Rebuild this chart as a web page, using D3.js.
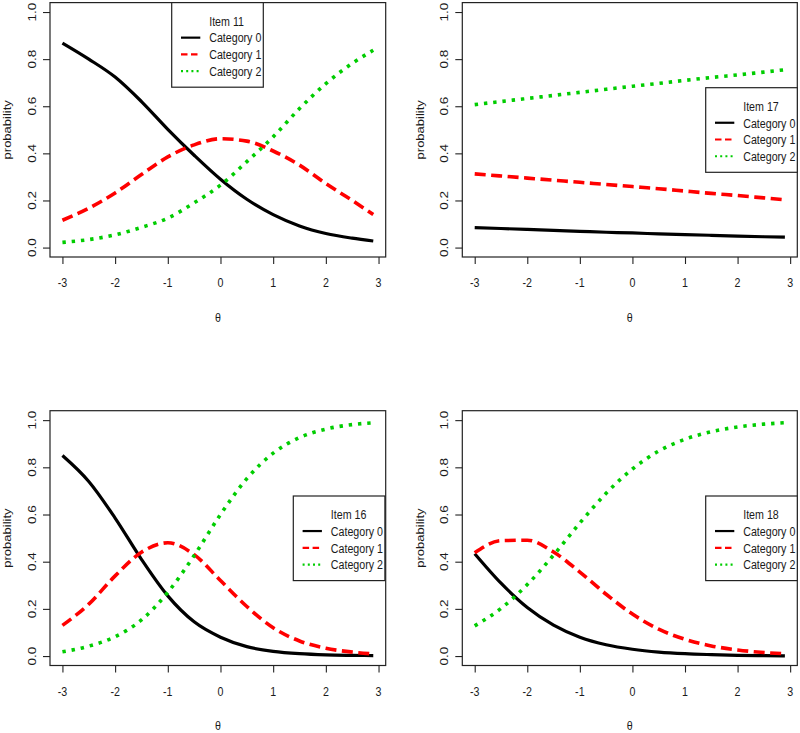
<!DOCTYPE html>
<html>
<head>
<meta charset="utf-8">
<script src="https://cdn.jsdelivr.net/npm/d3@7"></script>
<style>
  html, body { margin: 0; padding: 0; background: #ffffff; }
  svg { display: block; }
  text { font-family: "Liberation Sans", Arial, sans-serif; fill: #1a1a1a; }
</style>
</head>
<body>
<svg id="chart" width="800" height="733"></svg>
<script>
// ---------- data ----------
const theta = [-3, -2.5, -2, -1.5, -1, -0.5, 0, 0.5, 1, 1.5, 2, 2.5, 2.9];
const xTicks = [-3, -2, -1, 0, 1, 2, 3];
const yTicks = [0, 0.2, 0.4, 0.6, 0.8, 1.0];
const yTickLabels = ["0.0", "0.2", "0.4", "0.6", "0.8", "1.0"];
const categoryNames = ["Category 0", "Category 1", "Category 2"];
const itemNames = ["Item 11", "Item 17", "Item 16", "Item 18"];

const item11_cat0 = [0.868, 0.800, 0.724, 0.620, 0.502, 0.392, 0.290, 0.205, 0.140, 0.092, 0.060, 0.040, 0.028];
const item11_cat1 = [0.116, 0.167, 0.232, 0.310, 0.385, 0.436, 0.462, 0.452, 0.410, 0.350, 0.272, 0.200, 0.140];
const item11_cat2 = [0.022, 0.034, 0.054, 0.086, 0.125, 0.190, 0.265, 0.365, 0.470, 0.590, 0.696, 0.782, 0.838];

const item17_cat0 = [0.085, 0.081, 0.077, 0.073, 0.069, 0.065, 0.062, 0.058, 0.055, 0.052, 0.049, 0.046, 0.044];
const item17_cat1 = [0.313, 0.304, 0.295, 0.286, 0.277, 0.268, 0.259, 0.250, 0.240, 0.230, 0.221, 0.211, 0.203];
const item17_cat2 = [0.607, 0.620, 0.633, 0.646, 0.659, 0.672, 0.685, 0.697, 0.710, 0.722, 0.733, 0.745, 0.755];

const item16_cat0 = [0.850, 0.740, 0.585, 0.410, 0.255, 0.145, 0.080, 0.040, 0.020, 0.010, 0.005, 0.003, 0.002];
const item16_cat1 = [0.130, 0.220, 0.340, 0.440, 0.480, 0.430, 0.320, 0.210, 0.120, 0.064, 0.033, 0.017, 0.009];
const item16_cat2 = [0.018, 0.042, 0.082, 0.153, 0.270, 0.426, 0.600, 0.752, 0.860, 0.926, 0.962, 0.981, 0.989];

const item18_cat0 = [0.434, 0.309, 0.206, 0.131, 0.080, 0.048, 0.029, 0.017, 0.010, 0.006, 0.003, 0.002, 0.001];
const item18_cat1 = [0.438, 0.489, 0.491, 0.441, 0.356, 0.262, 0.178, 0.114, 0.071, 0.043, 0.026, 0.015, 0.010];
const item18_cat2 = [0.128, 0.202, 0.303, 0.428, 0.564, 0.690, 0.793, 0.869, 0.919, 0.951, 0.971, 0.983, 0.989];

// ---------- layout ----------
const SQ = 0.79; // horizontal squeeze of text in the reference
const panels = [
  { item: itemNames[0], series: [item11_cat0, item11_cat1, item11_cat2],
    box: { x0: 50, x1: 385.7, y0: 2.6, y1: 257 }, legend: { x: 171.7, y: 2.6 } },
  { item: itemNames[1], series: [item17_cat0, item17_cat1, item17_cat2],
    box: { x0: 462.3, x1: 797.3, y0: 2.6, y1: 257 }, legend: { x: 705.7, y: 87.7 } },
  { item: itemNames[2], series: [item16_cat0, item16_cat1, item16_cat2],
    box: { x0: 50, x1: 385.7, y0: 410.7, y1: 665.5 }, legend: { x: 293.3, y: 496 } },
  { item: itemNames[3], series: [item18_cat0, item18_cat1, item18_cat2],
    box: { x0: 462.3, x1: 797.3, y0: 410.7, y1: 665.5 }, legend: { x: 705.7, y: 496 } }
];
const legendW = 91.6, legendH = 84.6;

const styles = [
  { color: "#000000", width: 3.2, dash: null, lw: 2.2, ldash: null },
  { color: "#ff0000", width: 3.6, dash: "11,5.5", lw: 2.2, ldash: "6.5,3.5" },
  { color: "#00cd00", width: 3.6, dash: "3.4,5.9", lw: 2.2, ldash: "2,3.2" }
];

const svg = d3.select("#chart");

function hText(g, x, y, str, anchor, size) {
  return g.append("text")
    .attr("transform", `translate(${x},${y}) scale(${SQ},1)`)
    .attr("text-anchor", anchor)
    .attr("font-size", size)
    .text(str);
}
function vText(g, x, y, str, size) {
  return g.append("text")
    .attr("transform", `translate(${x},${y}) scale(${SQ},1) rotate(-90)`)
    .attr("text-anchor", "middle")
    .attr("dominant-baseline", "central")
    .attr("font-size", size)
    .text(str);
}

panels.forEach(p => {
  const g = svg.append("g");
  const b = p.box;
  const x = d3.scaleLinear().domain([-3 - 0.236, 2.9 + 0.236]).range([b.x0, b.x1]);
  const y = d3.scaleLinear().domain([-0.04, 1.04]).range([b.y1, b.y0]);

  // curves
  const line = d3.line().x((d, i) => x(theta[i])).y(d => y(d)).curve(d3.curveMonotoneX);
  p.series.forEach((s, k) => {
    const st = styles[k];
    g.append("path")
      .datum(s)
      .attr("d", line)
      .attr("fill", "none")
      .attr("stroke", st.color)
      .attr("stroke-width", st.width)
      .attr("stroke-dasharray", st.dash)
      .attr("stroke-linejoin", "round");
  });

  // box
  g.append("rect")
    .attr("x", b.x0).attr("y", b.y0)
    .attr("width", b.x1 - b.x0).attr("height", b.y1 - b.y0)
    .attr("fill", "none").attr("stroke", "#222").attr("stroke-width", 1.2);

  // x axis ticks
  const xAxis = g.append("g")
    .attr("transform", `translate(0,${b.y1})`)
    .call(d3.axisBottom(x).tickValues(xTicks).tickSize(7).tickFormat(""));
  xAxis.select(".domain").remove();
  xAxis.selectAll(".tick line").attr("stroke", "#222").attr("stroke-width", 1.1);
  xTicks.forEach(t => hText(g, x(t), b.y1 + 30, String(t), "middle", 13.5));

  // y axis ticks
  const yAxis = g.append("g")
    .attr("transform", `translate(${b.x0},0)`)
    .call(d3.axisLeft(y).tickValues(yTicks).tickSize(7).tickFormat(""));
  yAxis.select(".domain").remove();
  yAxis.selectAll(".tick line").attr("stroke", "#222").attr("stroke-width", 1.1);
  yTicks.forEach((t, i) => vText(g, b.x0 - 17.5, y(t), yTickLabels[i], 13.5));

  // axis titles
  vText(g, b.x0 - 42.5, (b.y0 + b.y1) / 2, "probability", 13);
  hText(g, (b.x0 + b.x1) / 2, b.y1 + 64.5, "θ", "middle", 13.5);

  // legend
  const L = p.legend;
  const lg = g.append("g");
  lg.append("rect")
    .attr("x", L.x).attr("y", L.y)
    .attr("width", legendW).attr("height", legendH)
    .attr("fill", "#ffffff").attr("stroke", "#222").attr("stroke-width", 1.2);
  const rows = [p.item].concat(categoryNames);
  rows.forEach((r, i) => {
    const cy = L.y + 18.3 + i * 16.75;
    hText(lg, L.x + 37.5, cy + 4.8, r, "start", 13.5);
    if (i > 0) {
      const st = styles[i - 1];
      lg.append("line")
        .attr("x1", L.x + 9.3).attr("x2", L.x + 28.6)
        .attr("y1", cy).attr("y2", cy)
        .attr("stroke", st.color)
        .attr("stroke-width", st.lw)
        .attr("stroke-dasharray", st.ldash);
    }
  });
});
</script>
</body>
</html>
